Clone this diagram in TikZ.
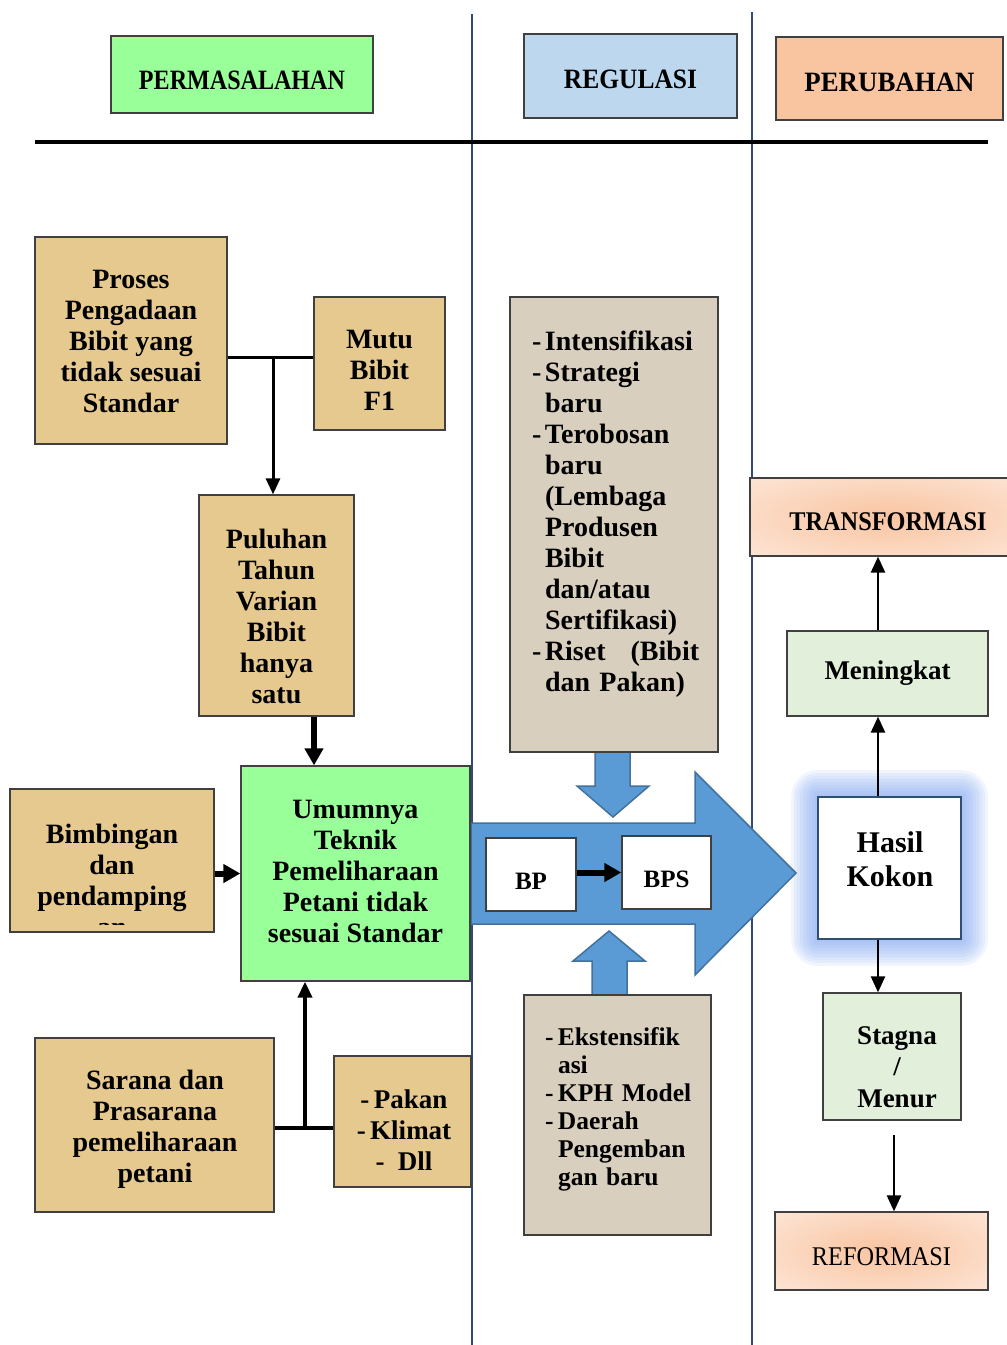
\documentclass[tikz,border=0pt]{standalone}
\usepackage{fontspec}
\setmainfont{Liberation Serif}
\usepackage{graphicx}
\usepackage{tikz}
\usetikzlibrary{arrows.meta}
\definecolor{kertas}{HTML}{E5C98F}
\definecolor{kertasabu}{HTML}{D9CFBF}
\definecolor{hijau}{HTML}{99FF99}
\definecolor{hijaumuda}{HTML}{E2EFDA}
\definecolor{birumuda}{HTML}{BDD7EE}
\definecolor{peach}{HTML}{F9C4A0}
\definecolor{peachmuda}{HTML}{FEF0E8}
\definecolor{biru}{HTML}{5B9BD5}
\definecolor{birutepi}{HTML}{41719C}
\definecolor{garis}{HTML}{2F4A7A}
\definecolor{cahaya}{HTML}{7FA5F0}
\pgfdeclareradialshading{sinar}{\pgfpoint{0bp}{0bp}}{color(0bp)=(peach); color(48bp)=(peachmuda); color(75bp)=(peachmuda)}
\newcommand{\fs}[2]{\fontsize{#1}{#2}\selectfont}
\newcommand{\dashit}{\makebox[13pt][l]{-}}
\newcommand{\dashcont}{\hspace*{13pt}}
\tikzstyle{every node}=[font=\fs{28}{31}\bfseries, align=center, inner sep=0pt]
\tikzstyle{box}=[draw=black!75, line width=1.3pt]
\tikzstyle{kotak}=[box, fill=kertas]
\tikzstyle{judul}=[box, font=\fs{28}{30}\bfseries]
\tikzstyle{cerah}=[box, shade, shading=sinar]
\tikzstyle{panah}=[fill=biru, draw=birutepi, line width=1.5pt]
\tikzstyle{link}=[line width=2.5pt]
\tikzstyle{tebal}=[line width=6pt, -{Triangle[length=17pt,width=18pt]}]

\begin{document}
\begin{tikzpicture}[x=1pt, y=-1pt, >={Triangle[length=16pt,width=14pt]}]
    \useasboundingbox (0,0) rectangle (1007,1345);

    \draw[garis, line width=2pt] (472,14) -- (472,1345);
    \draw[garis, line width=2pt] (752,12) -- (752,1345);

    \node[judul, fill=hijau, minimum width=262pt, minimum height=77pt, text height=29.5pt, text depth=0pt] (hpermasalahan) at (242,74.5) {\scalebox{0.86}[1]{PERMASALAHAN}};
    \node[judul, fill=birumuda, minimum width=213pt, minimum height=84pt, text height=24.5pt, text depth=0pt] (hregulasi) at (630.5,76) {\scalebox{0.91}[1]{REGULASI}};
    \node[judul, fill=peach, minimum width=227pt, minimum height=83pt, text height=25.5pt, text depth=0pt] (hperubahan) at (889.5,78.5) {\scalebox{0.96}[1]{PERUBAHAN}};
    \draw[line width=4.5pt] (35,142) -- (988,142);

    \foreach \g in {3,6,...,27}
        \fill[cahaya, opacity=0.11, rounded corners=\g] (818-\g,797-\g) rectangle (961+\g,939+\g);

    \draw[panah] (471,823) -- (695,823) -- (695,772) -- (796,873) -- (695,975) -- (695,924) -- (471,924) -- cycle;
    \draw[panah] (595,752) -- (630,752) -- (630,786) -- (649,786) -- (613,817) -- (577,786) -- (595,786) -- cycle;
    \draw[panah] (592,995) -- (627,995) -- (627,961) -- (645,961) -- (609,931) -- (573,961) -- (592,961) -- cycle;

    \node[kotak, minimum width=192pt, minimum height=207pt] (proses) at (131,340.5) {};
    \node (teksproses) at (131,341) {Proses\\Pengadaan\\Bibit yang\\tidak sesuai\\Standar};
    \node[kotak, minimum width=131pt, minimum height=133pt] (mutu) at (379.5,363.5) {};
    \node (teksmutu) at (379.5,370) {Mutu\\Bibit\\F1};
    \node[kotak, minimum width=155pt, minimum height=221pt] (puluhan) at (276.5,605.5) {};
    \node (tekspuluhan) at (276.5,616) {Puluhan\\Tahun\\Varian\\Bibit\\hanya\\satu};
    \node[box, fill=hijau, minimum width=229pt, minimum height=215pt] (umumnya) at (355.5,873.5) {};
    \node (teksumum) at (355.5,871) {Umumnya\\Teknik\\Pemeliharaan\\Petani tidak\\sesuai Standar};
    \node[kotak, minimum width=204pt, minimum height=143pt] (bimbingan) at (112,860.5) {};
    \begin{scope}
        \clip (10,789) rectangle (214,924);
        \node (teksbimbingan) at (112,880) {Bimbingan\\dan\\pendamping\\an};
    \end{scope}
    \node[kotak, minimum width=239pt, minimum height=174pt] (sarana) at (154.5,1125) {};
    \node (tekssarana) at (155,1129.5) {Sarana dan\\Prasarana\\pemeliharaan\\petani};
    \node[kotak, minimum width=137pt, minimum height=131pt] (pakan) at (402.5,1121.5) {};
    \node[font=\fs{27}{31}\bfseries] (tekspakan) at (404,1130) {-\,Pakan\\-\,Klimat\\-\ \ Dll};

    \node[box, fill=kertasabu, minimum width=208pt, minimum height=455pt] (regatas) at (614,524.5) {};
    \node[text width=180pt, align=left] (teksatas) at (622,514) {\dashit Intensifikasi\\\dashit Strategi\\\dashcont baru\\\dashit Terobosan\\\dashcont baru\\\dashcont (Lembaga\\\dashcont Produsen\\\dashcont Bibit\\\dashcont dan/atau\\\dashcont Sertifikasi)\\\dashit \mbox{Riset\hspace{25pt}(Bibit}\\\dashcont dan Pakan)};
    \node[box, fill=kertasabu, minimum width=187pt, minimum height=240pt] (regbawah) at (617.5,1115) {};
    \node[text width=160pt, align=left, font=\fs{25.5}{28}\bfseries] (teksbawah) at (625,1109) {\dashit Ekstensifik\\\dashcont asi\\\dashit KPH~Model\\\dashit Daerah\\\dashcont Pengemban\\\dashcont gan baru};
    \node[box, fill=white, minimum width=90pt, minimum height=73pt, font=\fs{25}{28}\bfseries, text height=30.5pt, text depth=0pt] (bp) at (531,874.5) {BP};
    \node[box, fill=white, minimum width=89pt, minimum height=73pt, font=\fs{25}{28}\bfseries, text height=30.5pt, text depth=0pt] (bps) at (666.5,872.5) {BPS};

    \node[cerah, minimum width=276pt, minimum height=78pt, font=\fs{27}{30}\bfseries, text height=27pt, text depth=0pt] (transformasi) at (888,517) {\scalebox{0.9}[1]{TRANSFORMASI}};
    \node[box, fill=hijaumuda, minimum width=201pt, minimum height=85pt, font=\fs{27}{30}\bfseries] (meningkat) at (887.5,673.5) {Meningkat};
    \node[draw=birutepi!70!black, line width=1.2pt, fill=white, minimum width=143pt, minimum height=142pt] (hasil) at (889.5,868) {};
    \node[font=\fs{30}{34}\bfseries] (tekshasil) at (890,859) {Hasil\\Kokon};
    \node[box, fill=hijaumuda, minimum width=138pt, minimum height=127pt] (stagna) at (892,1056.5) {};
    \node[font=\fs{27}{31.5}\bfseries] (teksstagna) at (897,1067) {Stagna\\/\\Menur};
    \node[cerah, minimum width=213pt, minimum height=78pt, font=\fs{27}{30}\mdseries, text height=28pt, text depth=0pt] (reformasi) at (881.5,1251) {\scalebox{0.9}[1]{REFORMASI}};

    \coordinate (cabang1) at (273,357);
    \draw[line width=3pt] (proses.east |- cabang1) -- (mutu.west |- cabang1);
    \draw[line width=3pt, ->] (cabang1) -- (puluhan.north -| cabang1);
    \coordinate (turun1) at (314,0);
    \draw[tebal] (puluhan.south -| turun1) -- (umumnya.north -| turun1);
    \draw[tebal] (bimbingan.east |- umumnya) -- (umumnya.west);
    \coordinate (cabang2) at (305,1128);
    \draw[line width=3.5pt] (sarana.east |- cabang2) -- (pakan.west |- cabang2);
    \draw[line width=4pt, ->] (cabang2) -- (umumnya.south -| cabang2);
    \draw[tebal] (bp.east |- bps) -- (bps.west);

    \coordinate (kanan) at (878,0);
    \draw[link, ->] (hasil.north -| kanan) -- (meningkat.south -| kanan);
    \draw[link, ->] (meningkat.north -| kanan) -- (transformasi.south -| kanan);
    \draw[link, ->] (hasil.south -| kanan) -- (stagna.north -| kanan);
    \coordinate (bawah) at (894,1135);
    \draw[link, ->] (bawah) -- (reformasi.north -| bawah);
\end{tikzpicture}
\end{document}
